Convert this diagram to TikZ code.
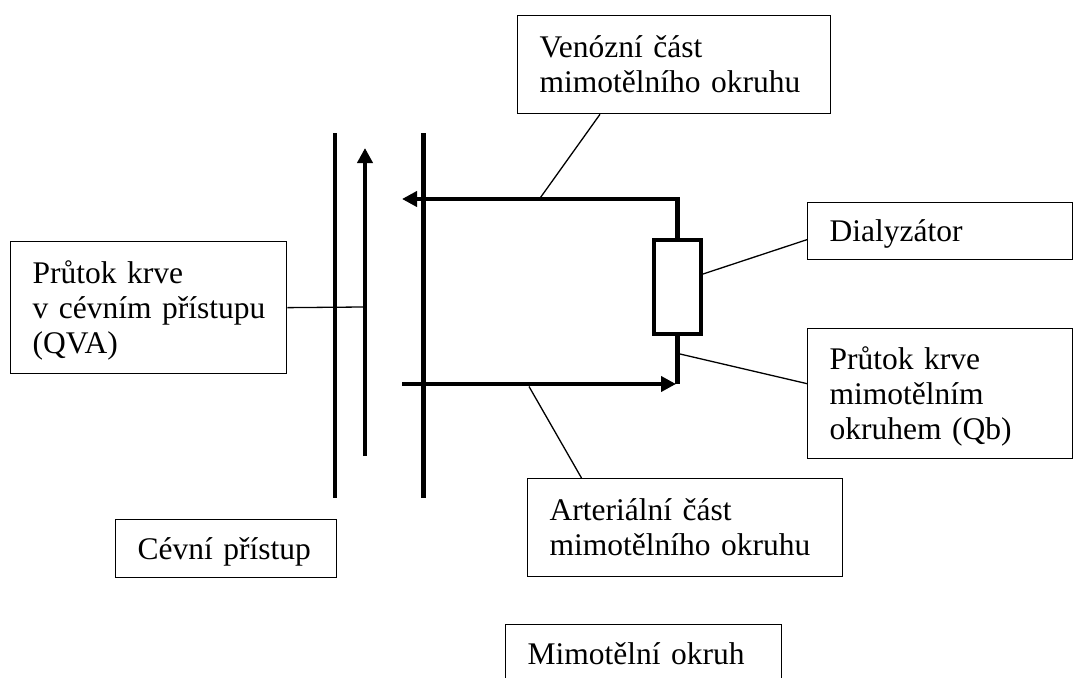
\documentclass[tikz,border=0pt]{standalone}
\usepackage{fontspec}
\setmainfont{Liberation Serif}
\usetikzlibrary{arrows.meta}
% label font and a strut that fixes the height/depth of each text line
\newcommand\lbfont{\fontsize{31.5pt}{35pt}\selectfont\hyphenpenalty=10000 }
\newcommand\lstr{\rule[-7pt]{0pt}{35pt}}

\begin{document}
\begin{tikzpicture}[x=1pt,y=-1pt,
  pipe/.style={line width=4.5pt},
  flow/.style={pipe,-{Triangle[length=15pt,width=15pt]}},
  lead/.style={line width=1.3pt},
  labelbox/.style={draw,line width=1.3pt,anchor=north west,inner xsep=22pt,
    inner ysep=0pt,align=left,font=\lbfont},
  dialyser/.style={draw,line width=4.3pt,minimum width=47pt,
    minimum height=94pt,inner sep=0pt}]
\clip (0,0) rectangle (1073,677);
\fill[white] (0,0) rectangle (1073,677);

% label boxes
\node[labelbox,minimum width=313pt,minimum height=98pt,text width=269pt]
  (lblven) at (517,15) {\lstr Venózní část\\\mbox{mimotělního okruhu}\lstr};
\node[labelbox,minimum width=265pt,minimum height=57pt,text width=221pt]
  (lbldia) at (807,202) {\lstr Dialyzátor\lstr};
\node[labelbox,minimum width=265pt,minimum height=130pt,text width=221pt]
  (lblqb) at (807,328) {\lstr Průtok krve\\mimotělním\\\mbox{okruhem (Qb)}\lstr};
\node[labelbox,minimum width=276pt,minimum height=132pt,text width=232pt]
  (lblqva) at (10,241) {\lstr Průtok krve\\\mbox{v cévním přístupu}\\(QVA)\lstr};
\node[labelbox,minimum width=315pt,minimum height=98pt,text width=271pt]
  (lblart) at (527,478) {\lstr Arteriální část\\\mbox{mimotělního okruhu}\lstr};
\node[labelbox,minimum width=221pt,minimum height=58pt,text width=177pt]
  (lblcev) at (115,519) {\lstr\mbox{Cévní přístup}\lstr};
\node[labelbox,minimum width=276pt,minimum height=58pt,text width=232pt]
  (lblmim) at (505,624) {\lstr\mbox{Mimotělní okruh}\lstr};

% dialyser
\node[dialyser] (dlz) at (677.4,286.8) {};

% vessel walls
\coordinate (wallAtop) at (335,133);
\coordinate (wallAbot) at (335,498);
\coordinate (wallBtop) at (423.5,133);
\coordinate (wallBbot) at (423.5,498);
\draw[pipe] (wallAtop) -- (wallAbot);
\draw[pipe] (wallBtop) -- (wallBbot);

% flow in the vascular access
\coordinate (accS) at (365,456);
\coordinate (accE) at (365,148);
\draw[flow] (accS) -- (accE);

% venous return line
\coordinate (venE) at (402,199);
\draw[flow] (dlz.north) |- (venE);

% arterial line
\coordinate (artS) at (402,384);
\coordinate (artE) at (676,384);
\draw[flow] (artS) -- (artE);
\draw[pipe] (dlz.south) -- (dlz.south |- artS);

% leader lines
\coordinate (qvaP) at (363,307);
\coordinate (venP) at (540.5,197.5);
\coordinate (qbP) at (680,354);
\coordinate (artP) at (529,386.5);
\draw[lead] (lblqva.east) -- (qvaP);
\draw[lead] ([xshift=83pt]lblven.south west) -- (venP);
\draw[lead] ([yshift=12.8pt]dlz.east) -- ([yshift=-8.5pt]lbldia.west);
\draw[lead] (qbP) -- ([yshift=10pt]lblqb.west);
\draw[lead] (artP) -- ([xshift=54.5pt]lblart.north west);
\end{tikzpicture}
\end{document}
